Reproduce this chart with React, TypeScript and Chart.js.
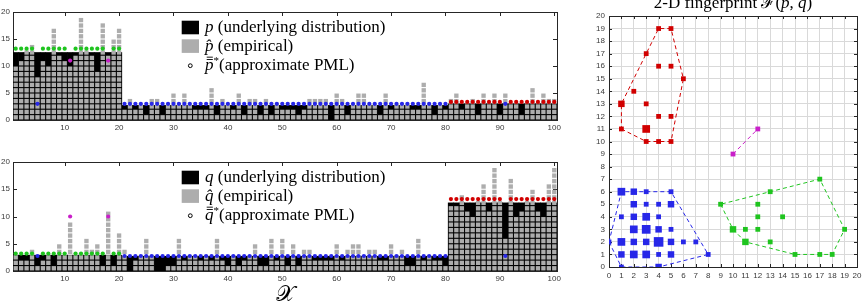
import { useEffect, useRef } from "react";
import { Chart, registerables } from "chart.js";

Chart.register(...registerables);

// Empirical counts of each of the 100 symbols in the two samples (p-sample, q-sample).
const pCounts = [
  10, 11, 13, 14, 8, 11, 10, 17, 12, 11,
  10, 12, 19, 13, 12, 9, 18, 12, 15, 17,
  2, 4, 2, 3, 1, 4, 4, 1, 3, 5,
  3, 5, 3, 2, 2, 2, 6, 1, 4, 3,
  2, 5, 1, 4, 4, 1, 4, 1, 3, 2,
  2, 2, 1, 2, 4, 4, 4, 4, 0, 5,
  4, 1, 3, 5, 5, 3, 3, 1, 5, 2,
  3, 3, 3, 2, 2, 7, 3, 1, 3, 2,
  4, 5, 2, 3, 4, 1, 5, 3, 5, 1,
  5, 3, 3, 1, 3, 6, 3, 5, 4, 4,
];
const qCounts = [
  3, 2, 2, 4, 1, 2, 3, 1, 5, 3,
  9, 3, 3, 6, 4, 5, 1, 11, 1, 7,
  4, 0, 2, 3, 6, 3, 0, 0, 1, 1,
  6, 2, 3, 3, 2, 3, 2, 6, 2, 1,
  3, 1, 2, 3, 5, 1, 1, 6, 2, 6,
  1, 5, 1, 4, 4, 2, 2, 2, 2, 5,
  2, 4, 5, 5, 3, 4, 4, 2, 2, 5,
  3, 4, 1, 1, 6, 2, 3, 2, 2, 1,
  12, 12, 14, 11, 10, 13, 16, 11, 19, 13,
  6, 17, 10, 11, 13, 15, 11, 10, 16, 19,
];

// Underlying distributions are flat over three blocks of symbols (in expected-count units).
const blockOf = [
  "aaaaaaaaaa", "aaaaaaaaaa",
  "bbbbbbbbbb", "bbbbbbbbbb", "bbbbbbbbbb", "bbbbbbbbbb", "bbbbbbbbbb", "bbbbbbbbbb",
  "cccccccccc", "cccccccccc",
].join("");
const pLevel: Record<string, number> = { a: 12.5, b: 2.7, c: 3.0 };
const qLevel: Record<string, number> = { a: 2.9, b: 2.7, c: 12.5 };

// Approximate PML solution: group of each symbol and the level assigned to each group.
const pmlGroup = [
  "ggggbggggg", "mggggggmgg",
  "bbbbbbbbbb", "bbbbbbbbbb", "bbbbbbbbbb", "bbbbbbbbbb", "bbbbbbbbbb", "bbbbbbbbbb",
  "rrrrrrrrrr", "brrrrrrrrr",
].join("");
const pPml: Record<string, number> = { g: 13.2, b: 3.0, r: 3.35, m: 11 };
const qPml: Record<string, number> = { g: 3.2, b: 2.75, r: 13.2, m: 10 };

const groupOrder = ["g", "b", "r", "m"];
const groupColor: Record<string, string> = { g: "#1fc41f", b: "#2727e8", r: "#d10000", m: "#c91fc9" };

const xTicks = [10, 20, 30, 40, 50, 60, 70, 80, 90, 100];
const yTicks = [0, 5, 10, 15, 20];
const fpTicks = [0, 1, 2, 3, 4, 5, 6, 7, 8, 9, 10, 11, 12, 13, 14, 15, 16, 17, 18, 19, 20];

const symbols = pCounts.map((_, i) => String(i + 1));

const SERIF = '"Liberation Serif", "DejaVu Serif", serif';
const SANS = '"Liberation Sans", Arial, sans-serif';
const CELL_GRAY = "#adadad";
const CELL_INSET = 0.1;
const AXIS_COLOR = "#262626";
const TICK_TEXT = "#3a3a3a";

type Run = { text: string; font: string; dy?: number; bars?: number };

// Draws text runs left to right; a run with `bars` gets that many overbars above it.
function drawRuns(ctx: CanvasRenderingContext2D, x: number, y: number, runs: Run[]) {
  let cx = x;
  for (const r of runs) {
    ctx.font = r.font;
    ctx.fillText(r.text, cx, y + (r.dy ?? 0));
    const w = ctx.measureText(r.text).width;
    if (r.bars) {
      for (let b = 0; b < r.bars; b++) {
        ctx.fillRect(cx + 0.2 * w, y - 11.2 - b * 2.3, w * 0.72, 0.9);
      }
    }
    cx += w;
  }
  return cx - x;
}

function runsWidth(ctx: CanvasRenderingContext2D, runs: Run[]) {
  let w = 0;
  for (const r of runs) {
    ctx.font = r.font;
    w += ctx.measureText(r.text).width;
  }
  return w;
}

// Axis box with inward tick marks, drawn under the data.
const framePlugin = {
  id: "frame",
  beforeDatasetsDraw(chart: any, _args: unknown, opts: any) {
    const { ctx, chartArea: a, scales } = chart;
    const len = opts.len ?? 4;
    ctx.save();
    ctx.strokeStyle = AXIS_COLOR;
    ctx.lineWidth = 1;
    ctx.beginPath();
    for (const v of opts.xValues ?? []) {
      const px = Math.round(scales.x.getPixelForValue(v)) + 0.5;
      ctx.moveTo(px, a.bottom);
      ctx.lineTo(px, a.bottom - len);
      ctx.moveTo(px, a.top);
      ctx.lineTo(px, a.top + len);
    }
    for (const v of opts.yValues ?? []) {
      const py = Math.round(scales.y.getPixelForValue(v)) + 0.5;
      ctx.moveTo(a.left, py);
      ctx.lineTo(a.left + len, py);
      ctx.moveTo(a.right, py);
      ctx.lineTo(a.right - len, py);
    }
    ctx.stroke();
    const l = Math.round(a.left) + 0.5;
    const t = Math.round(a.top) + 0.5;
    ctx.strokeRect(l, t, Math.round(a.right) - Math.round(a.left), Math.round(a.bottom) - Math.round(a.top));
    ctx.restore();
  },
};

// Legend box inside the histogram panels.
const pmlLegendPlugin = {
  id: "pmlLegend",
  afterDraw(chart: any, _args: unknown, opts: any) {
    const letter: string | undefined = opts.letter;
    if (!letter) return;
    const { ctx, chartArea: a } = chart;
    const ROMAN = `17px ${SERIF}`;
    const ITALIC = `italic 17px ${SERIF}`;
    const SUP = `11px ${SERIF}`;
    const boxL = a.left + 168.7;
    const textL = a.left + 192;
    ctx.save();
    ctx.fillStyle = "#000";
    ctx.fillRect(boxL, a.top + 8.7, 17.3, 13.6);
    ctx.fillStyle = CELL_GRAY;
    ctx.fillRect(boxL, a.top + 27.3, 17.3, 13.6);
    ctx.beginPath();
    ctx.arc(a.left + 177.3, a.top + 53.7, 1.9, 0, Math.PI * 2);
    ctx.strokeStyle = "#000";
    ctx.lineWidth = 1;
    ctx.stroke();
    ctx.fillStyle = "#000";
    ctx.textAlign = "left";
    ctx.textBaseline = "alphabetic";
    drawRuns(ctx, textL, a.top + 19.6, [
      { text: letter, font: ITALIC },
      { text: " (underlying distribution)", font: ROMAN },
    ]);
    drawRuns(ctx, textL, a.top + 38.9, [
      { text: letter + "\u0302", font: ITALIC },
      { text: " (empirical)", font: ROMAN },
    ]);
    drawRuns(ctx, textL, a.top + 58.2, [
      { text: letter, font: ITALIC, bars: 2 },
      { text: "*", font: SUP, dy: -6 },
      { text: "(approximate PML)", font: ROMAN },
    ]);
    ctx.restore();
  },
};

// Title above the fingerprint panel.
const fpTitlePlugin = {
  id: "fpTitle",
  afterDraw(chart: any) {
    const { ctx, chartArea: a } = chart;
    const ROMAN = `17px ${SERIF}`;
    const ITALIC = `italic 17px ${SERIF}`;
    const runs: Run[] = [
      { text: "2-D fingerprint ", font: ROMAN },
      { text: "\u2131", font: ROMAN },
      { text: "(", font: ROMAN },
      { text: "p", font: ITALIC },
      { text: ", ", font: ROMAN },
      { text: "q", font: ITALIC },
      { text: ")", font: ROMAN },
    ];
    ctx.save();
    ctx.fillStyle = "#000";
    ctx.textAlign = "left";
    ctx.textBaseline = "alphabetic";
    const w = runsWidth(ctx, runs);
    drawRuns(ctx, (a.left + a.right) / 2 - w / 2, a.top - 8.3, runs);
    ctx.restore();
  },
};

function histogramConfig(
  counts: number[],
  level: Record<string, number>,
  pml: Record<string, number>,
  letter: string,
  layoutTop: number,
  axisHeight: number,
  withAxisTitle: boolean
): any {
  const maxCount = Math.max(...counts);
  const datasets: any[] = [];
  // underlying distribution, shown in black behind the empirical cells
  datasets.push({
    type: "bar",
    data: symbols.map((_, i) => level[blockOf[i]]),
    backgroundColor: "#000",
    barPercentage: 1,
    categoryPercentage: 1,
    grouped: false,
    order: 3,
  });
  // one unit cell per observation, stacked by level
  for (let k = 0; k < maxCount; k++) {
    datasets.push({
      type: "bar",
      data: counts.map((c) => (c > k ? [k + CELL_INSET, k + 1 - CELL_INSET] : null)),
      backgroundColor: CELL_GRAY,
      barPercentage: 0.8,
      categoryPercentage: 1,
      grouped: false,
      inflateAmount: 0,
      order: 2,
    });
  }
  // approximate PML levels, coloured by group
  for (const g of groupOrder) {
    datasets.push({
      type: "line",
      data: symbols.map((_, i) => (pmlGroup[i] === g ? pml[g] : null)),
      showLine: false,
      pointRadius: 2.1,
      pointBackgroundColor: groupColor[g],
      pointBorderWidth: 0,
      borderColor: groupColor[g],
      order: 0,
    });
  }

  return {
    type: "bar",
    data: { labels: symbols, datasets },
    plugins: [framePlugin, pmlLegendPlugin],
    options: {
      responsive: false,
      devicePixelRatio: 1,
      animation: false,
      events: [],
      layout: { padding: { left: 0, top: layoutTop, right: 13, bottom: 0 } },
      plugins: {
        legend: { display: false },
        tooltip: { enabled: false },
        frame: { xValues: xTicks.map((v) => v - 1), yValues: yTicks, len: 4 },
        pmlLegend: { letter },
      },
      scales: {
        x: {
          type: "category",
          offset: true,
          grid: { display: false, drawTicks: false },
          border: { display: false },
          ticks: {
            autoSkip: false,
            maxRotation: 0,
            minRotation: 0,
            padding: 3,
            color: TICK_TEXT,
            font: { family: SANS, size: 8 },
            callback: (_v: unknown, i: number) => (xTicks.includes(i + 1) ? symbols[i] : ""),
          },
          title: withAxisTitle
            ? {
                display: true,
                text: "\u{1D4B3}",
                color: "#000",
                font: { family: SERIF, size: 22, lineHeight: 1 },
                padding: 0,
              }
            : { display: false },
          afterFit: (s: any) => {
            s.height = axisHeight;
          },
        },
        y: {
          min: 0,
          max: 20,
          afterBuildTicks: (s: any) => {
            s.ticks = yTicks.map((v) => ({ value: v }));
          },
          grid: { display: false, drawTicks: false },
          border: { display: false },
          ticks: { padding: 3, color: TICK_TEXT, font: { family: SANS, size: 8 } },
          afterFit: (s: any) => {
            s.width = 13;
          },
        },
      },
    },
  };
}

type FpCell = { x: number; y: number; n: number };

// 2-D fingerprint: number of symbols with each (p-count, q-count) pair, per PML group.
function fingerprintCells(group: string): FpCell[] {
  const cells = new Map<string, FpCell>();
  pCounts.forEach((pc, i) => {
    if (pmlGroup[i] !== group) return;
    const qc = qCounts[i];
    const key = `${pc},${qc}`;
    const cell = cells.get(key) ?? { x: pc, y: qc, n: 0 };
    cell.n += 1;
    cells.set(key, cell);
  });
  return [...cells.values()];
}

function convexHull(pts: { x: number; y: number }[]) {
  const p = [...pts].sort((a, b) => a.x - b.x || a.y - b.y);
  if (p.length < 3) return p;
  const cross = (o: any, a: any, b: any) => (a.x - o.x) * (b.y - o.y) - (a.y - o.y) * (b.x - o.x);
  const lower: any[] = [];
  for (const pt of p) {
    while (lower.length >= 2 && cross(lower[lower.length - 2], lower[lower.length - 1], pt) <= 0) lower.pop();
    lower.push(pt);
  }
  const upper: any[] = [];
  for (let i = p.length - 1; i >= 0; i--) {
    const pt = p[i];
    while (upper.length >= 2 && cross(upper[upper.length - 2], upper[upper.length - 1], pt) <= 0) upper.pop();
    upper.push(pt);
  }
  upper.pop();
  lower.pop();
  const hull = lower.concat(upper);
  return hull.concat([hull[0]]);
}

const markerSide = (n: number) => 4.8 * Math.pow(n, 0.43);

function fingerprintConfig(): any {
  const datasets: any[] = [];
  for (const g of groupOrder) {
    const cells = fingerprintCells(g);
    const hull = convexHull(cells).map((c) => ({ x: c.x, y: c.y }));
    datasets.push({
      type: "scatter",
      data: hull,
      showLine: true,
      borderColor: groupColor[g],
      borderWidth: 1,
      borderDash: [4, 3],
      pointRadius: 0,
      tension: 0,
      order: 1,
    });
    datasets.push({
      type: "scatter",
      data: cells.map((c) => ({ x: c.x, y: c.y })),
      pointStyle: "rect",
      pointRadius: cells.map((c) => markerSide(c.n) / Math.SQRT2),
      pointBackgroundColor: groupColor[g],
      pointBorderWidth: 0,
      order: 0,
    });
  }
  const axis = (pos: "x" | "y") => ({
    type: "linear",
    min: 0,
    max: 20,
    afterBuildTicks: (s: any) => {
      s.ticks = fpTicks.map((v) => ({ value: v }));
    },
    grid: { display: true, color: "#d9d9d9", lineWidth: 1, drawTicks: false },
    border: { display: false },
    ticks: {
      autoSkip: false,
      maxRotation: 0,
      padding: 4,
      color: TICK_TEXT,
      font: { family: SANS, size: 8 },
    },
    afterFit: (s: any) => {
      if (pos === "x") s.height = 39;
      else s.width = 34;
    },
  });
  return {
    type: "scatter",
    data: { datasets },
    plugins: [framePlugin, fpTitlePlugin],
    options: {
      responsive: false,
      devicePixelRatio: 1,
      animation: false,
      events: [],
      layout: { padding: { left: 0, top: 16, right: 11, bottom: 0 } },
      plugins: {
        legend: { display: false },
        tooltip: { enabled: false },
        frame: { xValues: fpTicks, yValues: fpTicks, len: 3 },
      },
      scales: { x: axis("x"), y: axis("y") },
    },
  };
}

function ChartCanvas(props: { make: () => any; left: number; top: number; width: number; height: number }) {
  const ref = useRef<HTMLCanvasElement>(null);
  useEffect(() => {
    const chart = new Chart(ref.current as HTMLCanvasElement, props.make());
    return () => chart.destroy();
  }, []);
  const { left, top, width, height } = props;
  return (
    <canvas
      ref={ref}
      width={width}
      height={height}
      style={{ position: "absolute", left, top, width, height }}
    />
  );
}

export default function App() {
  return (
    <div style={{ position: "absolute", left: 0, top: 0, width: 868, height: 306, background: "#fff", overflow: "hidden" }}>
      <ChartCanvas
        make={() => histogramConfig(pCounts, pLevel, pPml, "p", 12, 22, false)}
        left={0}
        top={0}
        width={570}
        height={142}
      />
      <ChartCanvas
        make={() => histogramConfig(qCounts, qLevel, qPml, "q", 20, 35, true)}
        left={0}
        top={142}
        width={570}
        height={164}
      />
      <ChartCanvas make={fingerprintConfig} left={575} top={0} width={293} height={306} />
    </div>
  );
}
